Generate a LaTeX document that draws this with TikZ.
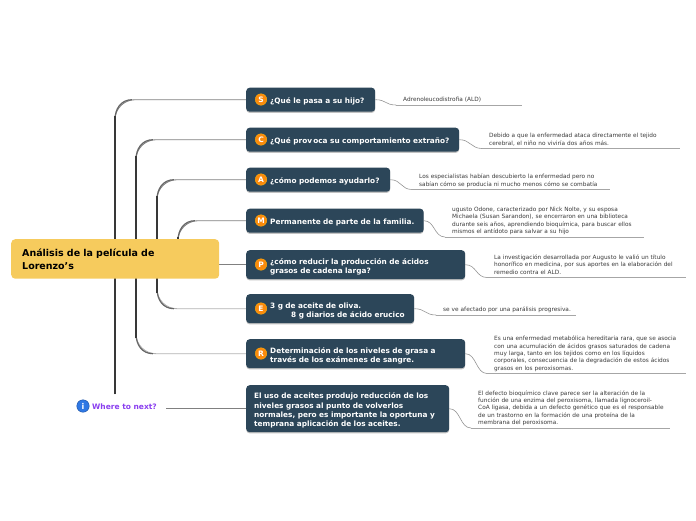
\documentclass[tikz,border=0pt]{standalone}
\usepackage{fontspec}
\setmainfont{DejaVu Sans}
\usetikzlibrary{calc,shadows,backgrounds}
\definecolor{topicblue}{HTML}{2C4659}
\definecolor{mainyellow}{HTML}{F6CB5D}
\definecolor{iconorange}{HTML}{FB8A0C}
\definecolor{iconblue}{HTML}{2F78E4}
\definecolor{nextpurple}{HTML}{8A3FEF}
\definecolor{notetext}{HTML}{3A3A3A}
\newcommand{\noteend}{\\[-4pt]\mbox{}}
\tikzset{
  mainbox/.style={fill=mainyellow,rounded corners=4pt,inner xsep=0pt,inner ysep=0pt,anchor=north west,
    font=\bfseries\fontsize{9.5pt}{13pt}\selectfont,text=black,minimum height=39.5pt,text width=208pt,
    execute at begin node={\leftskip=11pt\rightskip=0pt plus 1fil\relax}},
  topic/.style={fill=topicblue,rounded corners=3.5pt,inner xsep=0pt,inner ysep=0pt,anchor=north west,
    font=\bfseries\fontsize{7.35pt}{9.1pt}\selectfont,text=white,
    drop shadow={shadow xshift=0pt,shadow yshift=-1.2pt,fill=black!40,opacity=.6},
    execute at begin node={\leftskip=24pt\rightskip=0pt plus 1fil\relax\leavevmode\rule{0pt}{9.4pt}}},
  plaintopic/.style={topic,execute at begin node={\leftskip=8pt\rightskip=0pt plus 1fil\relax\leavevmode\rule{0pt}{9.4pt}}},
  badge/.style={circle,fill=iconorange,draw=iconorange!70!yellow,line width=.4pt,minimum size=11.5pt,inner sep=0pt,
    text=white,font=\bfseries\fontsize{7.5pt}{8pt}\selectfont},
  note/.style={inner xsep=0pt,inner ysep=0pt,anchor=south west,text=notetext,
    font=\fontsize{5.8pt}{7.3pt}\selectfont,
    execute at begin node={\leftskip=7pt\rightskip=0pt plus 1fil\relax}},
  twigtop/.style={draw=black!50,line width=.9pt,rounded corners=20pt},
  twigbot/.style={draw=black!30,line width=.9pt,rounded corners=20pt},
  stem/.style={draw=black!78,line width=2pt},
  elbow/.style={draw=black!60,line width=1.2pt},
  notecurve/.style={draw=black!42,line width=.6pt},
  noteline/.style={draw=black!35,line width=.9pt},
}
\begin{document}
\begin{tikzpicture}[x=1pt,y=-1pt]
\useasboundingbox (0,0) rectangle (696,520);
% topics
\node[mainbox] (main) at (11,239) {Análisis de la película de\\Lorenzo’s};
\node[topic,text width=129pt,minimum height=24pt] (s) at (246,87.5) {¿Qué le pasa a su hijo?};
\node[topic,text width=213pt,minimum height=24pt] (c) at (246,127.5) {¿Qué prov\,oca su comportamiento extraño?};
\node[topic,text width=144pt,minimum height=24pt] (a) at (246,167.5) {¿cómo podemos ayudarlo?};
\node[topic,text width=177.5pt,minimum height=24pt] (m) at (246,208.5) {Permanente de parte de la familia.};
\node[topic,text width=219pt,minimum height=29pt] (p) at (246,250) {¿cómo reducir la producción de ácidos\\grasos de cadena larga?};
\node[topic,text width=168pt,minimum height=29pt] (e) at (246,294) {3 g de aceite de oliva.\\\hspace*{21pt}8 g diarios de ácido erucico};
\node[topic,text width=219pt,minimum height=29pt] (r) at (246,339) {Determinación de los niveles de grasa a\\través de los exámenes de sangre.};
\node[plaintopic,text width=203pt,minimum height=47pt] (el) at (246,385) {El uso de aceites produjo reducción de los\\niveles grasos al punto de volverlos\\normales, pero es importante la oportuna y\\temprana aplicación de los aceites.};
% badges
\node[badge] (bs) at (261,99.5) {S};
\node[badge] (bc) at (261,139.5) {C};
\node[badge] (ba) at (261,179.5) {A};
\node[badge] (bm) at (261,220.5) {M};
\node[badge] (bp) at (261,264.5) {P};
\node[badge] (be) at (261,308.5) {E};
\node[badge] (br) at (261,353.5) {R};
% where to next
\node[circle,fill=iconblue,draw=iconblue!70!black,line width=.4pt,minimum size=12.5pt,inner sep=0pt,text=white,font=\bfseries\fontsize{8pt}{8pt}\selectfont] (info) at (83,406) {i};
\node[anchor=west,inner xsep=0pt,inner ysep=1pt,text=nextpurple,font=\bfseries\fontsize{7.5pt}{8pt}\selectfont] (next) at (92,406.5) {Where to next?};
% notes
\node[note,text width=126pt] (ns) at (396,105) {Adrenoleucodistrofia (ALD)\noteend};
\node[note,text width=198pt] (nc) at (482,148.5) {Debido a que la enfermedad ataca directamente el tejido\\cerebral, el niño no viviría dos años más.\noteend};
\node[note,text width=198pt] (na) at (412,189.5) {Los especialistas habían descubierto la enfermedad pero no\\sabían cómo se producía ni mucho menos cómo se combatía\noteend};
\node[note,text width=199pt] (nm) at (445,237) {ugusto Odone, caracterizado por Nick Nolte, y su esposa\\Michaela (Susan Sarandon), se encerraron en una biblioteca\\durante seis años, aprendiendo bioquímica, para buscar ellos\\mismos el antídoto para salvar a su hijo\noteend};
\node[note,text width=199pt] (np) at (487,277.5) {La investigación desarrollada por Augusto le valió un título\\honorífico en medicina, por sus aportes en la elaboración del\\remedio contra el ALD.\noteend};
\node[note,text width=140pt] (ne) at (436,315) {se ve afectado por una parálisis progresiva.\noteend};
\node[note,text width=199pt] (nr) at (487,373.5) {Es una enfermedad metabólica hereditaria rara, que se asocia\\con una acumulación de ácidos grasos saturados de cadena\\muy larga, tanto en los tejidos como en los líquidos\\corporales, consecuencia de la degradación de estos ácidos\\grasos en los peroxisomas.\noteend};
\node[note,text width=199pt] (nl) at (471,428) {El defecto bioquímico clave parece ser la alteración de la\\función de una enzima del peroxisoma, llamada lignoceroil-\\CoA ligasa, debida a un defecto genético que es el responsable\\de un trastorno en la formación de una proteína de la\\membrana del peroxisoma.\noteend};
% connectors
\begin{scope}[on background layer]
\coordinate (ta) at (115,394);
\coordinate (tb) at (136,258);
\coordinate (tc) at (157,258);
\coordinate (td) at (178,258);
\draw[twigtop] (ta) |- (s.west);
\draw[twigtop] (tb) |- (c.west);
\draw[twigbot] (tb) |- (r.west);
\draw[twigtop] (tc) |- (a.west);
\draw[twigbot] (tc) |- (e.west);
\draw[twigtop] (td) |- (m.west);
\foreach \v/\t in {ta/s,tb/c,tc/a,td/m}{
  \draw[elbow] ($(\v |- \t.west)+(0,20)$) .. controls +(0,-11) and +(-11,0) .. ($(\v |- \t.west)+(17,0)$);
}
\foreach \v/\t in {tb/r,tc/e}{
  \draw[elbow] ($(\v |- \t.west)+(0,-20)$) .. controls +(0,11) and +(-11,0) .. ($(\v |- \t.west)+(17,0)$);
}
\draw[stem] (ta) -- ($(ta |- s.west)+(0,16)$);
\draw[stem] ($(tb |- c.west)+(0,16)$) -- ($(tb |- r.west)+(0,-16)$);
\draw[stem] ($(tc |- a.west)+(0,16)$) -- ($(tc |- e.west)+(0,-16)$);
\draw[stem] ($(td |- m.west)+(0,16)$) -- (td);
\draw[twigtop] (main.east |- p.west) -- (p.west);
\draw[twigtop] (next.east |- el.west) ++(9,0) -- (el.west);
\foreach \t/\n in {s/ns,c/nc,a/na,m/nm,p/np,e/ne,r/nr,el/nl}{
  \draw[notecurve] (\t.east) .. controls +(11,0) and +(-11,0) .. (\n.south west);
  \draw[noteline] (\n.south west) -- (\n.south east);
}
\end{scope}
\end{tikzpicture}
\end{document}
